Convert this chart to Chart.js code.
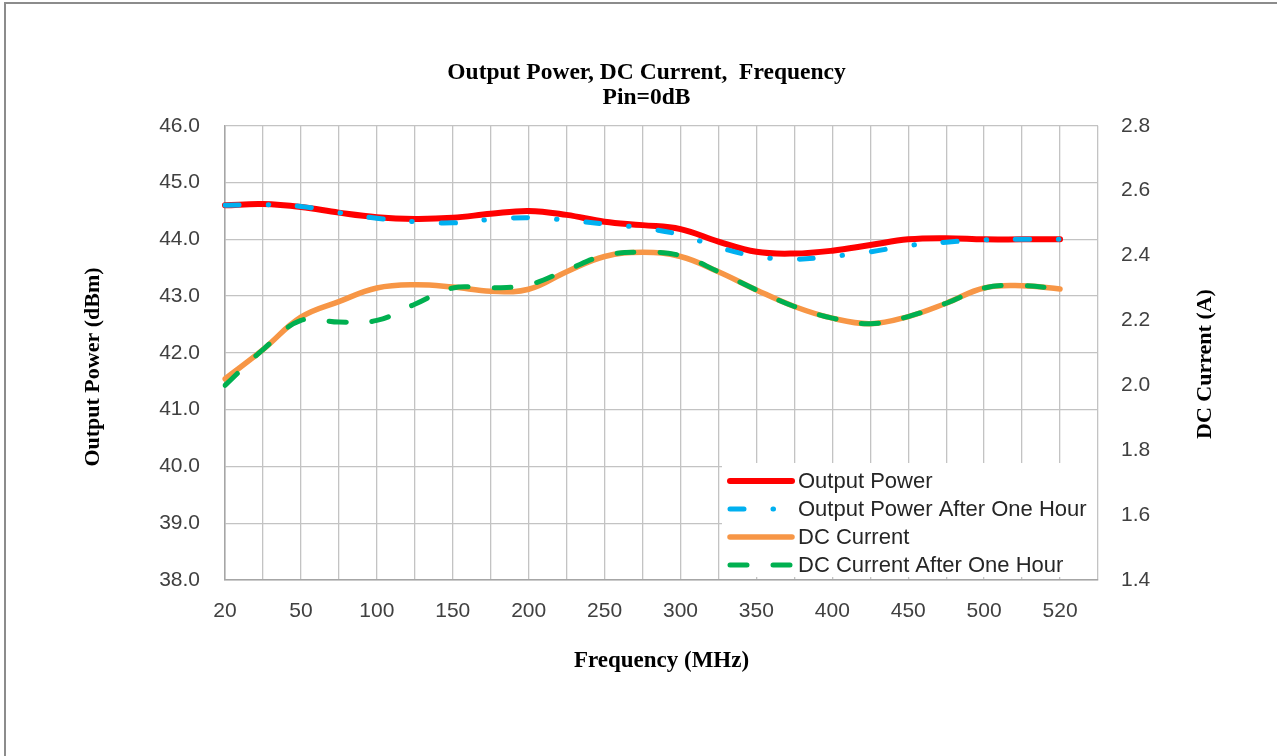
<!DOCTYPE html>
<html>
<head>
<meta charset="utf-8">
<script src="https://cdn.jsdelivr.net/npm/chart.js@4.4.0/dist/chart.umd.min.js"></script>
<style>
  html, body { margin: 0; padding: 0; background: #fff; }
  #wrap { position: relative; width: 1277px; height: 756px; overflow: hidden; }
  #frame { position: absolute; left: 4px; top: 2px; width: 1300px; height: 800px;
           border-left: 2px solid #8c8c8c; border-top: 2px solid #8c8c8c; pointer-events: none; }
</style>
</head>
<body>
<div id="wrap">
  <canvas id="chart" width="1277" height="756"></canvas>
  <div id="frame"></div>
</div>
<script>
// frequency categories (MHz); the last one is the empty slot at the right edge
const freqs = ['20', '35', '50', '75', '100', '125', '150', '175', '200', '225', '250', '275',
  '300', '325', '350', '375', '400', '425', '450', '475', '500', '510', '520', ''];
const shownTicks = ['20', '50', '100', '150', '200', '250', '300', '350', '400', '450', '500', '520'];

// output power, dBm
const power = [44.60, 44.62, 44.57, 44.47, 44.39, 44.36, 44.38, 44.45, 44.50, 44.43, 44.31, 44.25,
  44.18, 43.96, 43.78, 43.75, 43.80, 43.90, 44.00, 44.02, 44.00, 44.00, 44.00];
const powerHour = [44.60, 44.61, 44.58, 44.47, 44.37, 44.31, 44.29, 44.35, 44.38, 44.34, 44.27, 44.20,
  44.08, 43.86, 43.70, 43.65, 43.70, 43.78, 43.89, 43.95, 43.99, 44.00, 44.00];

// DC current, A
const current = [2.02, 2.11, 2.21, 2.258, 2.30, 2.31, 2.303, 2.29, 2.296, 2.35, 2.397, 2.41,
  2.397, 2.35, 2.294, 2.243, 2.207, 2.19, 2.212, 2.253, 2.30, 2.307, 2.297];
const currentHour = [2.00, 2.11, 2.20, 2.195, 2.20, 2.25, 2.30, 2.30, 2.31, 2.355, 2.40, 2.41,
  2.40, 2.35, 2.294, 2.243, 2.207, 2.19, 2.212, 2.253, 2.30, 2.307, 2.297];

const gridColor = '#c3c3c3';
const tickFont = { family: 'Liberation Sans', size: 21 };

// axis titles on the sides and the legend inside the plot
const overlay = {
  id: 'overlay',
  afterDraw(chart) {
    const { ctx, chartArea: a } = chart;
    ctx.save();
    ctx.fillStyle = '#000';
    ctx.font = 'bold 22px "Liberation Serif"';
    ctx.textAlign = 'center';
    ctx.textBaseline = 'middle';
    [[93, 367, 'Output Power (dBm)'], [1205, 364, 'DC Current (A)']].forEach(([x, y, t]) => {
      ctx.save();
      ctx.translate(x, y);
      ctx.rotate(-Math.PI / 2);
      ctx.fillText(t, 0, 0);
      ctx.restore();
    });

    const bx = a.right - 376, by = a.bottom - 117;
    ctx.fillStyle = '#fff';
    ctx.fillRect(bx, by, 375, 114);
    ctx.font = '22px "Liberation Sans"';
    ctx.textAlign = 'left';
    chart.data.datasets.forEach((ds, i) => {
      const y = by + 18 + i * 28;
      ctx.beginPath();
      ctx.setLineDash(ds.borderDash || []);
      ctx.lineCap = 'round';
      ctx.lineWidth = ds.borderWidth;
      ctx.strokeStyle = ds.borderColor;
      ctx.moveTo(bx + 8, y);
      ctx.lineTo(bx + 70, y);
      ctx.stroke();
      ctx.setLineDash([]);
      ctx.fillStyle = '#262626';
      ctx.fillText(ds.label, bx + 76, y + 1);
    });
    ctx.restore();
  }
};

new Chart(document.getElementById('chart'), {
  type: 'line',
  data: {
    labels: freqs,
    datasets: [{
      label: 'Output Power',
      data: power,
      yAxisID: 'y',
      borderColor: '#ff0000',
      borderWidth: 6,
      order: 4
    }, {
      label: 'Output Power After One Hour',
      data: powerHour,
      yAxisID: 'y',
      borderColor: '#00b0f0',
      borderWidth: 5,
      borderDash: [14, 29, 0.5, 29],
      order: 3
    }, {
      label: 'DC Current',
      data: current,
      yAxisID: 'y1',
      borderColor: '#f79646',
      borderWidth: 5.5,
      order: 2
    }, {
      label: 'DC Current After One Hour',
      data: currentHour,
      yAxisID: 'y1',
      borderColor: '#00b050',
      borderWidth: 5,
      borderDash: [17, 26],
      order: 1
    }]
  },
  options: {
    responsive: false,
    animation: false,
    layout: { padding: { left: 16 } },
    elements: {
      point: { radius: 0 },
      line: { tension: 0.4, borderCapStyle: 'round', borderJoinStyle: 'round', fill: false }
    },
    plugins: {
      legend: { display: false },
      tooltip: { enabled: false },
      title: {
        display: true,
        text: ['Output Power, DC Current,  Frequency', 'Pin=0dB'],
        color: '#000',
        font: { family: 'Liberation Serif', size: 23.5, weight: 'bold', lineHeight: 1.08 },
        padding: { top: 60, bottom: 15 }
      }
    },
    scales: {
      x: {
        type: 'category',
        offset: false,
        grid: { color: gridColor, lineWidth: 1.3, drawTicks: false },
        border: { color: '#a6a6a6', width: 1.5 },
        ticks: {
          autoSkip: false,
          maxRotation: 0,
          padding: 19,
          color: '#404040',
          font: tickFont,
          callback(v, i) {
            const lab = freqs[i];
            return shownTicks.includes(lab) ? lab : '';
          }
        },
        title: {
          display: true,
          text: 'Frequency (MHz)',
          color: '#000',
          font: { family: 'Liberation Serif', size: 23, weight: 'bold' },
          padding: { top: 0, bottom: 81 }
        },
        afterFit(s) { s.height = 176; }
      },
      y: {
        type: 'linear',
        position: 'left',
        min: 38,
        max: 46,
        grid: { color: gridColor, lineWidth: 1.3, drawTicks: false },
        border: { color: '#a6a6a6', width: 1.5 },
        ticks: { stepSize: 1, padding: 25, color: '#404040', font: tickFont, callback: v => v.toFixed(1) },
        afterFit(s) { s.width = 209; }
      },
      y1: {
        type: 'linear',
        position: 'right',
        min: 1.4,
        max: 2.8,
        grid: { drawOnChartArea: false, drawTicks: false },
        border: { display: false },
        ticks: { stepSize: 0.2, padding: 23, color: '#404040', font: tickFont, callback: v => v.toFixed(1) },
        afterFit(s) { s.width = 179; }
      }
    }
  },
  plugins: [overlay]
});
</script>
</body>
</html>
